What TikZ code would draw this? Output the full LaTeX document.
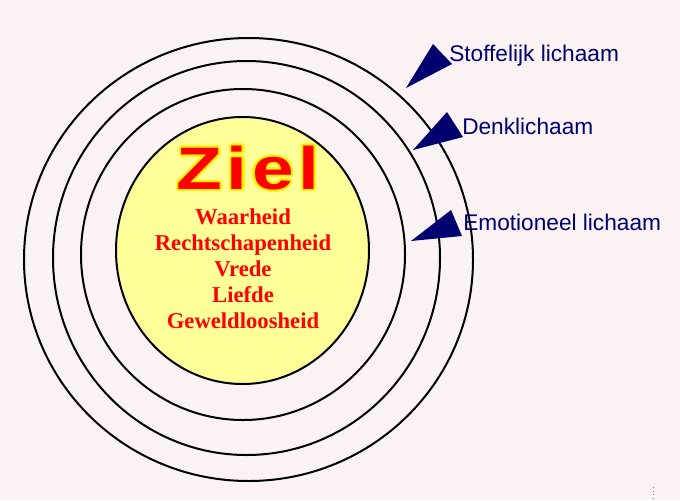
\documentclass[tikz,border=0pt]{standalone}
\usepackage{fontspec}
\setmainfont{Liberation Serif}
\newfontfamily\labelfont{Liberation Sans}
\newfontfamily\zielfont[LetterSpace=6]{Liberation Sans}
\usepackage{contour}
\usetikzlibrary{shapes.geometric}
\definecolor{paper}{RGB}{251,243,243}
\definecolor{soulyellow}{RGB}{255,255,153}
\definecolor{navyblue}{RGB}{0,0,110}
\contourlength{1.4pt}

\begin{document}
\begin{tikzpicture}[x=0.75pt,y=-0.75pt,
    ring/.style   ={ellipse,draw=black,line width=1.5pt,inner sep=0pt},
    soul/.style   ={ring,fill=soulyellow},
    virtue/.style ={font=\bfseries\fontsize{17}{19.5}\selectfont,
                    text=red,align=center},
    lbl/.style    ={anchor=base west,inner sep=0pt,text=navyblue,
                    font=\labelfont\fontsize{17}{20}\selectfont},
    wedge/.style  ={fill=navyblue},
  ]
  % Background
  \fill[paper] (0,0) rectangle (680,500);
  \useasboundingbox (0,0) rectangle (680,500);

  % Rings, outside to inside
  \node[ring,minimum width=336.75pt,minimum height=332.25pt] (R1) at (248.5,259.5) {};
  \node[ring,minimum width=290.25pt,minimum height=295.5pt]  (R2) at (246.5,258) {};
  \node[ring,minimum width=243pt,minimum height=248.25pt]    (R3) at (243,254.5) {};
  \node[soul,minimum width=189.75pt,minimum height=200.25pt] (S)  at (242.5,250.5) {};

  % Soul text
  \node[text=red] (Z) at (248,169)
    {\scalebox{1.25}[1]{\zielfont\bfseries\fontsize{45}{50}\selectfont\contour{yellow}{Ziel}}};
  \node[virtue] (V) at (243,269)
    {Waarheid\\Rechtschapenheid\\Vrede\\Liefde\\Geweldloosheid};

  % Right: body labels
  \node[lbl] (LS) at (449,61.5) {Stoffelijk lichaam};
  \node[lbl] (LD) at (462,134)  {Denklichaam};
  \node[lbl] (LE) at (463,230)  {Emotioneel lichaam};

  % Pointer wedges
  \coordinate (tS) at (406,88);
  \coordinate (tD) at (413,150);
  \coordinate (tE) at (411,241);
  \fill[wedge] (tS) -- ++(27,-44) -- ++(19,20) -- cycle;
  \fill[wedge] (tD) -- ++(34,-38) -- ++(16,25) -- cycle;
  \fill[wedge] (tE) -- ++(40,-31) -- ++(11,26) -- cycle;

  % small mark bottom right
  \draw[gray,dotted,line width=0.75pt] (653,487) -- (653,500);
\end{tikzpicture}
\end{document}
